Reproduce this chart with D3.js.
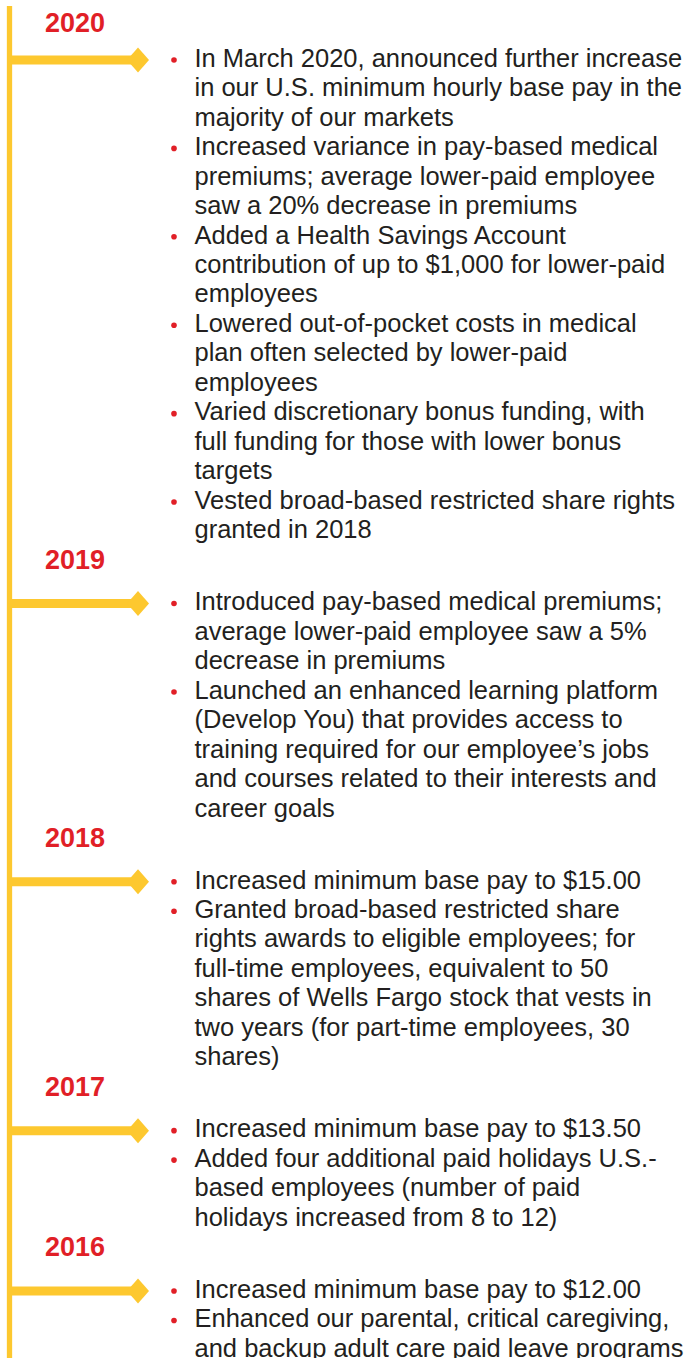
<!DOCTYPE html>
<html>
<head>
<meta charset="utf-8">
<script src="https://cdn.jsdelivr.net/npm/d3@7"></script>
<style>
  html, body { margin: 0; padding: 0; background: #ffffff; }
  svg { display: block; }
</style>
</head>
<body>
<div id="chart"></div>
<script>
// ---- data ----
const years = ["2020", "2019", "2018", "2017", "2016"];

const items2020 = [
  ["In March 2020, announced further increase", "in our U.S. minimum hourly base pay in the", "majority of our markets"],
  ["Increased variance in pay-based medical", "premiums; average lower-paid employee", "saw a 20% decrease in premiums"],
  ["Added a Health Savings Account", "contribution of up to $1,000 for lower-paid", "employees"],
  ["Lowered out-of-pocket costs in medical", "plan often selected by lower-paid", "employees"],
  ["Varied discretionary bonus funding, with", "full funding for those with lower bonus", "targets"],
  ["Vested broad-based restricted share rights", "granted in 2018"]
];
const items2019 = [
  ["Introduced pay-based medical premiums;", "average lower-paid employee saw a 5%", "decrease in premiums"],
  ["Launched an enhanced learning platform", "(Develop You) that provides access to", "training required for our employee\u2019s jobs", "and courses related to their interests and", "career goals"]
];
const items2018 = [
  ["Increased minimum base pay to $15.00"],
  ["Granted broad-based restricted share", "rights awards to eligible employees; for", "full-time employees, equivalent to 50", "shares of Wells Fargo stock that vests in", "two years (for part-time employees, 30", "shares)"]
];
const items2017 = [
  ["Increased minimum base pay to $13.50"],
  ["Added four additional paid holidays U.S.-", "based employees (number of paid", "holidays increased from 8 to 12)"]
];
const items2016 = [
  ["Increased minimum base pay to $12.00"],
  ["Enhanced our parental, critical caregiving,", "and backup adult care paid leave programs"]
];
const highlights = [items2020, items2019, items2018, items2017, items2016];

// ---- layout ----
const W = 696, H = 1358;
const RED = "#e11f27", GOLD = "#fdc82f", INK = "#231f20";
const lineH = 29.47, firstHead = 31.7, firstLine = 66.7, preHead = 30.5, postHead = 41.5, dotOff = 6.7;

// build a flow of rows (headings and text lines) and their baselines
const rows = [];
let y = firstHead;
years.forEach((yr, s) => {
  if (s > 0) y += preHead;
  rows.push({type: "head", text: yr, sec: s, y});
  y = s === 0 ? firstLine : y + postHead;
  highlights[s].forEach((lines, i) => {
    lines.forEach((t, j) => {
      rows.push({type: "line", text: t, sec: s, item: i, first: j === 0, y});
      y += lineH;
    });
  });
  y -= lineH;
});

const svg = d3.select("#chart").append("svg")
  .attr("width", W).attr("height", H).attr("viewBox", [0, 0, W, H]);

const x = d3.scaleLinear().domain([0, 1]).range([9.5, 138]); // spine -> diamond
const xBullet = 174, xText = 194.5, xHead = 45;

// spine
svg.append("line")
  .attr("x1", x(0)).attr("x2", x(0)).attr("y1", 6).attr("y2", H)
  .attr("stroke", GOLD).attr("stroke-width", 5.3);

// branches: one per section at first bullet line
const branchRows = rows.filter(r => r.type === "line" && r.item === 0 && r.first);
const br = svg.append("g").selectAll("g").data(branchRows).join("g")
  .attr("transform", d => `translate(0,${d.y - dotOff})`);
br.append("line")
  .attr("x1", x(0)).attr("x2", x(1) - 4).attr("y1", 0).attr("y2", 0)
  .attr("stroke", GOLD).attr("stroke-width", 9);
br.append("path")
  .attr("d", `M${x(1) - 11},0 L${x(1)},-12.5 L${x(1) + 11},0 L${x(1)},12.5 Z`)
  .attr("fill", GOLD);

// headings
svg.append("g").selectAll("text").data(rows.filter(r => r.type === "head")).join("text")
  .attr("x", xHead).attr("y", d => d.y)
  .attr("fill", RED)
  .attr("font-family", "'Liberation Sans', Arial, sans-serif")
  .attr("font-weight", "bold").attr("font-size", 27)
  .text(d => d.text);

// bullets
svg.append("g").selectAll("circle").data(rows.filter(r => r.type === "line" && r.first)).join("circle")
  .attr("cx", xBullet).attr("cy", d => d.y - dotOff).attr("r", 2.8)
  .attr("fill", RED);

// text lines
svg.append("g").selectAll("text").data(rows.filter(r => r.type === "line")).join("text")
  .attr("x", xText).attr("y", d => d.y)
  .attr("fill", INK)
  .attr("font-family", "'Liberation Sans', Arial, sans-serif")
  .attr("font-size", 25.5)
  .text(d => d.text);
</script>
</body>
</html>
